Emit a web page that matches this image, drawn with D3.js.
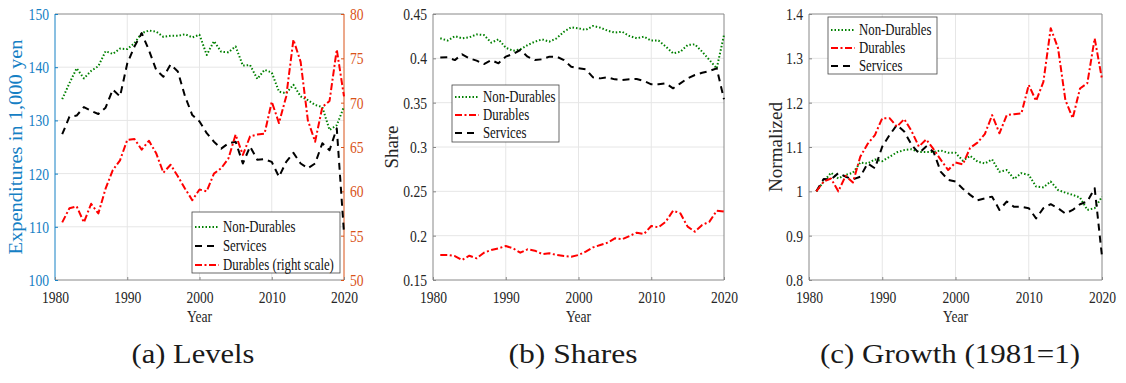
<!DOCTYPE html>
<html>
<head>
<meta charset="utf-8">
<script src="https://cdn.jsdelivr.net/npm/d3@7"></script>
<style>
  body { margin: 0; background: #fff; }
  svg { display: block; }
</style>
</head>
<body>
<svg id="chart" width="1126" height="383"></svg>
<script>
// Years 1981–2020
const years = d3.range(1981, 2021);

// (a) Levels, 1,000 yen
const levelNonDurables = [134.0,137.0,139.8,137.9,139.3,140.2,143.0,142.5,143.5,143.4,144.5,146.4,146.9,146.7,145.7,145.9,145.9,146.2,145.6,146.1,142.3,144.9,142.9,142.8,143.9,140.3,140.4,137.8,139.5,139.0,135.4,135.1,136.7,134.5,133.8,132.9,132.5,128.2,129.1,132.6];
const levelServices = [127.4,130.7,130.9,132.5,131.8,131.2,132.4,135.8,134.5,140.7,143.9,146.4,143.2,139.5,138.2,140.5,139.2,134.5,131.0,129.8,127.6,126.0,124.7,125.7,126.0,121.9,125.1,122.6,122.7,122.2,119.4,122.2,123.9,121.9,121.0,121.9,125.7,124.4,128.5,108.8];
const levelDurables = [56.5,58.1,58.3,56.5,58.6,57.5,60.3,62.4,63.5,65.8,65.9,64.7,65.7,64.3,62.1,63.0,61.7,60.3,59.0,60.2,60.0,62.0,62.6,63.7,66.4,64.1,66.2,66.4,66.5,70.1,67.7,70.7,77.1,74.6,68.0,65.6,69.5,70.2,76.0,70.7];

// (b) Shares
const shareNonDurables = [0.4226,0.420,0.425,0.4226,0.4237,0.427,0.4263,0.4177,0.4214,0.412,0.4086,0.410,0.415,0.4188,0.4214,0.4188,0.4226,0.430,0.435,0.4338,0.432,0.4365,0.4346,0.4312,0.429,0.430,0.4252,0.4226,0.4244,0.420,0.420,0.4132,0.4056,0.4075,0.415,0.4158,0.4075,0.3981,0.3887,0.4263];
const shareDurables = [0.1782,0.1782,0.177,0.1726,0.1774,0.1744,0.1808,0.1838,0.1857,0.1883,0.1857,0.1808,0.1846,0.1831,0.1793,0.1801,0.1782,0.177,0.1763,0.1782,0.182,0.1868,0.1895,0.1921,0.197,0.1959,0.1996,0.2034,0.2019,0.2109,0.2094,0.2158,0.2282,0.2252,0.2102,0.2045,0.212,0.2158,0.2282,0.2271];
const shareServices = [0.4008,0.4011,0.398,0.4045,0.400,0.3974,0.3936,0.398,0.3944,0.4019,0.4049,0.4094,0.4019,0.398,0.3989,0.4019,0.4019,0.398,0.3906,0.3887,0.3876,0.3786,0.3774,0.3786,0.3763,0.3756,0.3763,0.3767,0.3744,0.3707,0.3707,0.3718,0.3662,0.3718,0.3774,0.3812,0.3838,0.3857,0.3887,0.3538];

// (c) Growth, 1981 = 1
const growthNonDurables = [1.0,1.022,1.042,1.029,1.037,1.042,1.065,1.063,1.072,1.068,1.078,1.088,1.093,1.095,1.089,1.089,1.089,1.092,1.087,1.087,1.069,1.080,1.067,1.063,1.072,1.044,1.048,1.028,1.041,1.037,1.011,1.009,1.022,1.003,0.997,0.992,0.986,0.958,0.962,0.988];
const growthDurables = [1.0,1.022,1.029,1.0,1.035,1.020,1.078,1.107,1.127,1.165,1.165,1.146,1.163,1.136,1.101,1.117,1.095,1.071,1.048,1.065,1.061,1.098,1.110,1.129,1.172,1.131,1.172,1.174,1.176,1.240,1.204,1.247,1.368,1.323,1.206,1.165,1.232,1.244,1.345,1.253];
const growthServices = [1.0,1.028,1.027,1.041,1.033,1.027,1.033,1.063,1.052,1.101,1.127,1.150,1.135,1.105,1.086,1.101,1.089,1.044,1.026,1.022,1.006,0.992,0.980,0.984,0.988,0.958,0.977,0.965,0.965,0.962,0.939,0.962,0.971,0.962,0.950,0.958,0.971,0.977,1.007,0.853];

// Axis tick values
const xTicks = [1980, 1990, 2000, 2010, 2020];
const levelTicks = [100, 110, 120, 130, 140, 150];
const levelRightTicks = [50, 55, 60, 65, 70, 75, 80];
const shareTicks = [0.15, 0.2, 0.25, 0.3, 0.35, 0.4, 0.45];
const growthTicks = [0.8, 0.9, 1.0, 1.1, 1.2, 1.3, 1.4];

// Text
const captions = ["(a) Levels", "(b) Shares", "(c) Growth (1981=1)"];
const yLabels = ["Expenditures in 1,000 yen", "Share", "Normalized"];

// Styles
const SERIF = "'Liberation Serif', 'Times New Roman', serif";
const GREEN = "#008000", RED = "#ff0000", BLACK = "#000000";
const BLUE = "#1580c4", ORANGE = "#d95319", INK = "#262626";
const styles = {
  nd:  { color: GREEN, dash: "1.5,2" },
  dur: { color: RED,   dash: "7,2.5,2,2.5" },
  srv: { color: BLACK, dash: "7,5" }
};

const svg = d3.select("#chart");
const plotTop = 14, plotBottom = 280;

function fmt(v) {
  return String(+v.toFixed(2));
}

function styleText(sel, size, color) {
  sel.attr("font-family", SERIF).style("font-family", SERIF).style("font-size", size + "px")
    .attr("fill", color).classed("narrow", true);
}

function panel(cfg) {
  const g = svg.append("g");
  const x = d3.scaleLinear().domain([1980, 2020]).range([cfg.left, cfg.right]);
  const y = d3.scaleLinear().domain(cfg.yDomain).range([plotBottom, plotTop]);

  // grid
  g.append("g").selectAll("line").data(xTicks.slice(1, -1)).join("line")
    .attr("x1", d => x(d)).attr("x2", d => x(d)).attr("y1", plotTop).attr("y2", plotBottom)
    .attr("stroke", "#e6e6e6").attr("stroke-width", 1);
  g.append("g").selectAll("line").data(cfg.yTicks.slice(1, -1)).join("line")
    .attr("x1", cfg.left).attr("x2", cfg.right).attr("y1", d => y(d)).attr("y2", d => y(d))
    .attr("stroke", "#e6e6e6").attr("stroke-width", 1);

  // frame
  g.append("line").attr("x1", cfg.left).attr("x2", cfg.right).attr("y1", plotTop).attr("y2", plotTop)
    .attr("stroke", "#888").attr("stroke-width", 1);
  g.append("line").attr("x1", cfg.left).attr("x2", cfg.right).attr("y1", plotBottom).attr("y2", plotBottom)
    .attr("stroke", "#888").attr("stroke-width", 1);
  g.append("line").attr("x1", cfg.left).attr("x2", cfg.left).attr("y1", plotTop).attr("y2", plotBottom)
    .attr("stroke", cfg.leftColor || "#888").attr("stroke-width", 1);
  g.append("line").attr("x1", cfg.right).attr("x2", cfg.right).attr("y1", plotTop).attr("y2", plotBottom)
    .attr("stroke", cfg.rightColor || "#888").attr("stroke-width", 1);

  // x axis ticks (inward) and labels
  const xAxis = d3.axisBottom(x).tickValues(xTicks).tickSize(-3).tickPadding(11).tickFormat(d3.format("d"));
  const xa = g.append("g").attr("transform", `translate(0,${plotBottom})`).call(xAxis);
  xa.select(".domain").remove();
  xa.selectAll(".tick line").attr("stroke", "#888");
  styleText(xa.selectAll("text"), 17, INK);

  // left y axis
  const yAxis = d3.axisLeft(y).tickValues(cfg.yTicks).tickSize(-3).tickPadding(6).tickFormat(cfg.fmt || fmt);
  const ya = g.append("g").attr("transform", `translate(${cfg.left},0)`).call(yAxis);
  ya.select(".domain").remove();
  ya.selectAll(".tick line").attr("stroke", cfg.leftColor || "#888");
  styleText(ya.selectAll("text"), cfg.yFont || 17, cfg.leftColor || INK);

  // x label
  styleText(g.append("text").attr("x", (cfg.left + cfg.right) / 2).attr("y", 322)
    .attr("text-anchor", "middle").text("Year"), 17, INK);
  // y label
  g.append("text")
    .attr("transform", `translate(${cfg.yLabelX},${(plotTop + plotBottom) / 2}) rotate(-90)`)
    .attr("text-anchor", "middle")
    .attr("font-family", SERIF).style("font-family", SERIF)
    .style("font-size", (cfg.yLabelSize || 19) + "px")
    .attr("fill", cfg.leftColor || INK)
    .attr("textLength", cfg.yLabelLen).attr("lengthAdjust", "spacingAndGlyphs")
    .text(cfg.yLabel);
  // caption
  g.append("text").attr("x", cfg.capX).attr("y", 363).attr("text-anchor", "middle")
    .attr("font-family", SERIF).style("font-family", SERIF)
    .style("font-size", "28px").attr("fill", "#1a1a1a")
    .attr("textLength", cfg.capW).attr("lengthAdjust", "spacingAndGlyphs")
    .text(cfg.caption);

  return { g, x, y };
}

function drawLine(p, values, st, yScale) {
  const line = d3.line().x((d, i) => p.x(years[i])).y(d => (yScale || p.y)(d));
  p.g.append("path").datum(values).attr("d", line)
    .attr("fill", "none").attr("stroke", st.color).attr("stroke-width", 2)
    .attr("stroke-dasharray", st.dash).attr("stroke-linejoin", "round");
}

function legend(p, x0, y0, w, h, first, step, items) {
  const lg = p.g.append("g");
  lg.append("rect").attr("x", x0).attr("y", y0).attr("width", w).attr("height", h)
    .attr("fill", "#fff").attr("stroke", "#444").attr("stroke-width", 0.8);
  items.forEach((it, i) => {
    const cy = y0 + first + i * step;
    lg.append("line").attr("x1", x0 + 3).attr("x2", x0 + 27).attr("y1", cy).attr("y2", cy)
      .attr("stroke", it.st.color).attr("stroke-width", 2).attr("stroke-dasharray", it.st.dash);
    styleText(lg.append("text").attr("x", x0 + 31).attr("y", cy + 5).text(it.label), 16, "#111");
  });
}

// (a) Levels
const pa = panel({
  left: 55, right: 344, yDomain: [100, 150], yTicks: levelTicks,
  leftColor: BLUE, rightColor: ORANGE, fmt: d3.format("d"),
  yLabel: yLabels[0], yLabelX: 22, yLabelSize: 19, yLabelLen: 215, yFont: 17,
  caption: captions[0], capX: 193, capW: 123
});
const yRight = d3.scaleLinear().domain([50, 80]).range([plotBottom, plotTop]);
const ra = pa.g.append("g").attr("transform", "translate(344,0)")
  .call(d3.axisRight(yRight).tickValues(levelRightTicks).tickSize(-3).tickPadding(6));
ra.select(".domain").remove();
ra.selectAll(".tick line").attr("stroke", ORANGE);
styleText(ra.selectAll("text"), 17, ORANGE);

drawLine(pa, levelNonDurables, styles.nd);
drawLine(pa, levelServices, styles.srv);
drawLine(pa, levelDurables, styles.dur, yRight);
legend(pa, 192, 212, 148, 61, 15, 19, [
  { st: styles.nd, label: "Non-Durables" },
  { st: styles.srv, label: "Services" },
  { st: styles.dur, label: "Durables (right scale)" }
]);

// (b) Shares
const pb = panel({
  left: 433, right: 724, yDomain: [0.15, 0.45], yTicks: shareTicks,
  yLabel: yLabels[1], yLabelX: 398, yLabelLen: 43,
  caption: captions[1], capX: 573, capW: 129
});
drawLine(pb, shareNonDurables, styles.nd);
drawLine(pb, shareServices, styles.srv);
drawLine(pb, shareDurables, styles.dur);
legend(pb, 452, 85, 107, 57, 12, 18, [
  { st: styles.nd, label: "Non-Durables" },
  { st: styles.dur, label: "Durables" },
  { st: styles.srv, label: "Services" }
]);

// (c) Growth
const pc = panel({
  left: 809, right: 1102, yDomain: [0.8, 1.4], yTicks: growthTicks,
  yLabel: yLabels[2], yLabelX: 782, yLabelLen: 90,
  caption: captions[2], capX: 950, capW: 260
});
drawLine(pc, growthNonDurables, styles.nd);
drawLine(pc, growthServices, styles.srv);
drawLine(pc, growthDurables, styles.dur);
legend(pc, 828, 17, 109, 57, 13, 18, [
  { st: styles.nd, label: "Non-Durables" },
  { st: styles.dur, label: "Durables" },
  { st: styles.srv, label: "Services" }
]);

// Narrow the small labels horizontally, keeping their anchors
svg.selectAll("text.narrow").each(function () {
  const len = this.getComputedTextLength();
  d3.select(this).attr("textLength", len * 0.8).attr("lengthAdjust", "spacingAndGlyphs");
});
</script>
</body>
</html>
